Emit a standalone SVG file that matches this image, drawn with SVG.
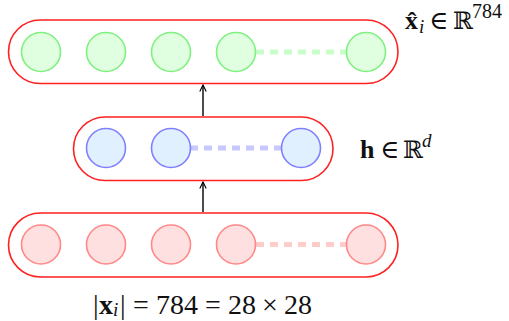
<svg xmlns="http://www.w3.org/2000/svg" width="509" height="321" viewBox="0 0 509 321">
<defs>
<style>
.box{fill:none;stroke:#ff2020;stroke-width:1.6}
.g{fill:#e0ffe0;stroke:#80f080;stroke-width:1.6}
.b{fill:#e0f0ff;stroke:#8080ff;stroke-width:1.6}
.r{fill:#ffe0e0;stroke:#ff8888;stroke-width:1.6}
.gd{stroke:#c8ffc8;stroke-width:5;stroke-dasharray:8,6}
.bd{stroke:#c8c8ff;stroke-width:5;stroke-dasharray:8,6}
.rd{stroke:#ffcccc;stroke-width:5;stroke-dasharray:8,6}
.lbl{font-family:"Liberation Serif","DejaVu Serif",serif;font-size:26px;fill:#111}
.big{font-size:28px}
.sm{font-size:19px}
.R{font-size:24px}
.it{font-style:italic}
.bf{font-weight:bold}
.arr{stroke:#000;stroke-width:1.4;fill:none}
</style>
<marker id="ah" viewBox="0 0 10 10" refX="9" refY="5" markerWidth="8" markerHeight="8" orient="auto" markerUnits="userSpaceOnUse">
<path d="M1,1 L9,5 L1,9" fill="none" stroke="#000" stroke-width="1.4"/>
</marker>
</defs>
<g id="connectors">
<line class="arr" x1="203" y1="212" x2="203" y2="182" marker-end="url(#ah)"/>
<line class="arr" x1="203" y1="116" x2="203" y2="85" marker-end="url(#ah)"/>
</g>
<g id="output">
<rect class="box" x="8.5" y="20" width="389.5" height="63.5" rx="31.75"/>
<line class="gd" x1="256" y1="52" x2="346" y2="52"/>
<circle class="g" cx="41" cy="52" r="19.5"/>
<circle class="g" cx="106" cy="52" r="19.5"/>
<circle class="g" cx="171" cy="52" r="19.5"/>
<circle class="g" cx="236" cy="52" r="19.5"/>
<circle class="g" cx="366" cy="52" r="19.5"/>
</g>
<g id="hidden">
<rect class="box" x="73.5" y="117" width="259.5" height="63.5" rx="31.75"/>
<line class="bd" x1="190" y1="148" x2="281" y2="148"/>
<circle class="b" cx="106" cy="148" r="19.5"/>
<circle class="b" cx="171" cy="148" r="19.5"/>
<circle class="b" cx="301" cy="148" r="19.5"/>
</g>
<g id="input">
<rect class="box" x="8.5" y="213" width="389.5" height="64" rx="32"/>
<line class="rd" x1="256" y1="244.5" x2="346" y2="244.5"/>
<circle class="r" cx="41" cy="244.5" r="19.5"/>
<circle class="r" cx="106" cy="244.5" r="19.5"/>
<circle class="r" cx="171" cy="244.5" r="19.5"/>
<circle class="r" cx="236" cy="244.5" r="19.5"/>
<circle class="r" cx="366" cy="244.5" r="19.5"/>
</g>
<g id="labels">
<text class="lbl"><tspan class="bf" x="405" y="29">x̂</tspan><tspan class="it sm" x="419" y="33">i</tspan><tspan x="429" y="29">∈</tspan><tspan class="R" x="453" y="29">ℝ</tspan><tspan font-size="20" x="472" y="18">784</tspan></text>
<text class="lbl"><tspan class="bf" x="360" y="158">h</tspan><tspan x="380" y="158">∈</tspan><tspan class="R" x="403" y="158">ℝ</tspan><tspan class="it sm" x="422" y="147">d</tspan></text>
<text class="lbl big"><tspan x="93" y="314">|</tspan><tspan class="bf" x="99" y="314">x</tspan><tspan class="it sm" x="113" y="316">i</tspan><tspan x="120" y="314">|</tspan><tspan x="133" y="314">=</tspan><tspan x="156" y="314">784</tspan><tspan x="205" y="314">=</tspan><tspan x="228" y="314">28</tspan><tspan x="262" y="314">×</tspan><tspan x="284" y="314">28</tspan></text>
</g>
</svg>
